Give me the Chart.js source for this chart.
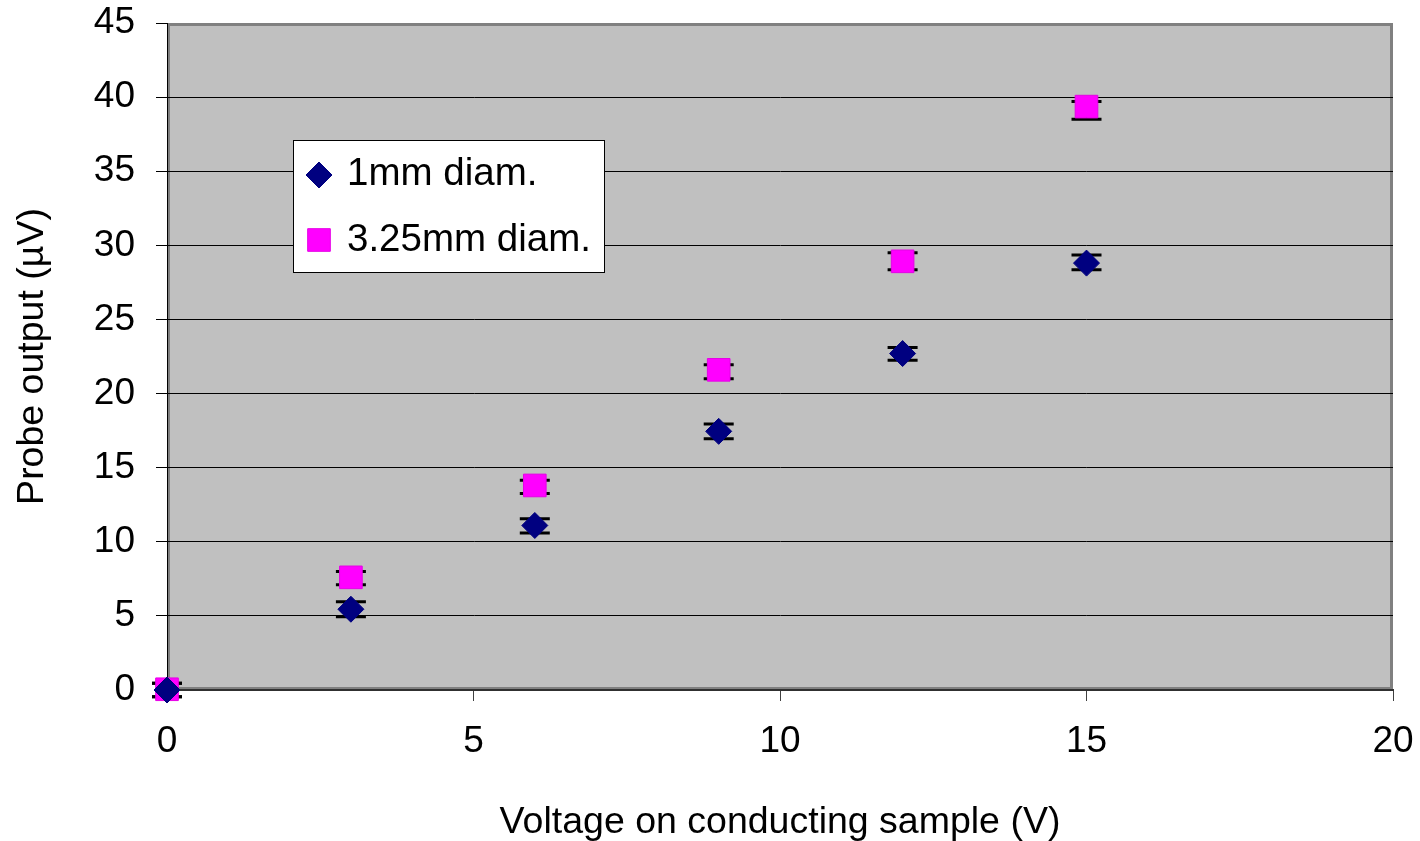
<!DOCTYPE html>
<html>
<head>
<meta charset="utf-8">
<script src="https://cdn.jsdelivr.net/npm/chart.js@4/dist/chart.umd.min.js"></script>
<style>
    body { margin: 0; background: #fff; }
    #wrap { width: 1420px; height: 841px; }
</style>
</head>
<body>
<div id="wrap"><canvas id="probeChart" width="1420" height="841"></canvas></div>
<script>
// values
const voltage = [0, 3, 6, 9, 12, 15];
const probe1mm = [0, 5.45, 11.1, 17.45, 22.7, 28.8];
const probe325mm = [0.05, 7.6, 13.8, 21.6, 28.92, 39.36];
// error bar ends (low / high)
const low1mm = [-0.45, 4.95, 10.6, 16.95, 22.25, 28.35];
const high1mm = [0.45, 5.95, 11.55, 17.95, 23.1, 29.35];
const low325mm = [-0.45, 7.1, 13.25, 21.0, 28.35, 38.5];
const high325mm = [0.45, 8.0, 14.15, 21.95, 29.5, 39.7];
const seriesNames = ['1mm diam.', '3.25mm diam.'];
const xTicks = [0, 5, 10, 15, 20];
const yTicks = [0, 5, 10, 15, 20, 25, 30, 35, 40, 45];

const FONT = 'Liberation Sans, Arial, sans-serif';

// scales should not push the plot area around, the layout padding does that
function noScalePadding(s) {
    s.paddingTop = 0;
    s.paddingBottom = 0;
    s.paddingLeft = 0;
    s.paddingRight = 0;
}

const plotBackground = {
    id: 'plotBackground',
    beforeDraw(chart) {
        const { ctx, chartArea: a } = chart;
        ctx.save();
        ctx.fillStyle = '#c0c0c0';
        ctx.fillRect(a.left, a.top, a.width, a.height);
        ctx.strokeStyle = '#808080';
        ctx.lineWidth = 3;
        ctx.strokeRect(a.left + 1.5, a.top + 1.5, a.width - 3, a.height - 3);
        ctx.restore();
    }
};

const errorBars = {
    id: 'errorBars',
    beforeDatasetsDraw(chart) {
        const { ctx, scales: { x, y } } = chart;
        ctx.save();
        ctx.strokeStyle = '#000';
        [[low1mm, high1mm], [low325mm, high325mm]].forEach(([lo, hi]) => {
            voltage.forEach((v, i) => {
                const px = x.getPixelForValue(v);
                const yLo = y.getPixelForValue(lo[i]);
                const yHi = y.getPixelForValue(hi[i]);
                ctx.lineWidth = 1;
                ctx.beginPath();
                ctx.moveTo(px, yLo);
                ctx.lineTo(px, yHi);
                ctx.stroke();
                ctx.lineWidth = 3;
                ctx.beginPath();
                ctx.moveTo(px - 15, yLo); ctx.lineTo(px + 15, yLo);
                ctx.moveTo(px - 15, yHi); ctx.lineTo(px + 15, yHi);
                ctx.stroke();
            });
        });
        ctx.restore();
    }
};

// legend box sits inside the plot, like the original
const boxLegend = {
    id: 'boxLegend',
    afterDraw(chart) {
        const { ctx } = chart;
        ctx.save();
        ctx.fillStyle = '#fff';
        ctx.strokeStyle = '#000';
        ctx.lineWidth = 1;
        ctx.fillRect(293, 140, 312, 133);
        ctx.strokeRect(293.5, 140.5, 311, 132);

        chart.data.datasets.forEach((ds, i) => {
            const cy = i === 0 ? 175 : 240;
            ctx.fillStyle = ds.pointBackgroundColor;
            ctx.strokeStyle = ds.pointBorderColor;
            Chart.helpers.drawPoint(ctx, {
                pointStyle: ds.pointStyle,
                radius: i === 0 ? 13 : 16,
                rotation: 0,
                borderWidth: 1
            }, 319, cy);
            ctx.fillStyle = '#000';
            ctx.font = '38.5px ' + FONT;
            ctx.textBaseline = 'alphabetic';
            ctx.textAlign = 'left';
            ctx.fillText(ds.label, 347, i === 0 ? 185 : 251);
        });
        ctx.restore();
    }
};

new Chart(document.getElementById('probeChart'), {
    type: 'scatter',
    data: {
        datasets: [
            {
                label: seriesNames[0],
                data: voltage.map((v, i) => ({ x: v, y: probe1mm[i] })),
                pointStyle: 'rectRot',
                pointRadius: 13,
                pointHoverRadius: 13,
                pointBackgroundColor: '#000080',
                pointBorderColor: '#000080',
                pointBorderWidth: 1,
                showLine: false,
                clip: false
            },
            {
                label: seriesNames[1],
                data: voltage.map((v, i) => ({ x: v, y: probe325mm[i] })),
                pointStyle: 'rect',
                pointRadius: 16,
                pointHoverRadius: 16,
                pointBackgroundColor: '#ff00ff',
                pointBorderColor: '#e600e6',
                pointBorderWidth: 1,
                showLine: false,
                clip: false
            }
        ]
    },
    options: {
        responsive: false,
        animation: false,
        events: [],
        layout: { padding: { top: 23, right: 27, left: 0, bottom: 0 } },
        plugins: {
            legend: { display: false },
            tooltip: { enabled: false }
        },
        scales: {
            x: {
                type: 'linear',
                min: 0,
                max: 20,
                afterBuildTicks: s => { s.ticks = xTicks.map(v => ({ value: v })); },
                afterFit: s => { s.height = 151; noScalePadding(s); },
                grid: { drawOnChartArea: false, tickLength: 11, tickColor: '#404040', tickWidth: 1 },
                border: { color: '#303030', width: 2 },
                ticks: { color: '#000', padding: 19, font: { family: FONT, size: 37 } },
                title: {
                    display: true,
                    text: 'Voltage on conducting sample (V)',
                    color: '#000',
                    padding: { top: 0, bottom: 0 },
                    font: { family: FONT, size: 37.5, lineHeight: 1 }
                }
            },
            y: {
                type: 'linear',
                min: 0,
                max: 45,
                afterBuildTicks: s => { s.ticks = yTicks.map(v => ({ value: v })); },
                afterFit: s => { s.width = 167; noScalePadding(s); },
                grid: {
                    color: c => (c.tick && c.tick.value === 45 ? 'rgba(0,0,0,0)' : '#000'),
                    lineWidth: 1,
                    tickLength: 11,
                    tickColor: '#000'
                },
                border: { color: '#000', width: 1 },
                ticks: { color: '#000', padding: 21, font: { family: FONT, size: 37 } },
                title: {
                    display: true,
                    text: 'Probe output (µV)',
                    color: '#000',
                    padding: { top: 14, bottom: 0 },
                    font: { family: FONT, size: 37.5, lineHeight: 1 }
                }
            }
        }
    },
    plugins: [plotBackground, errorBars, boxLegend]
});
</script>
</body>
</html>
